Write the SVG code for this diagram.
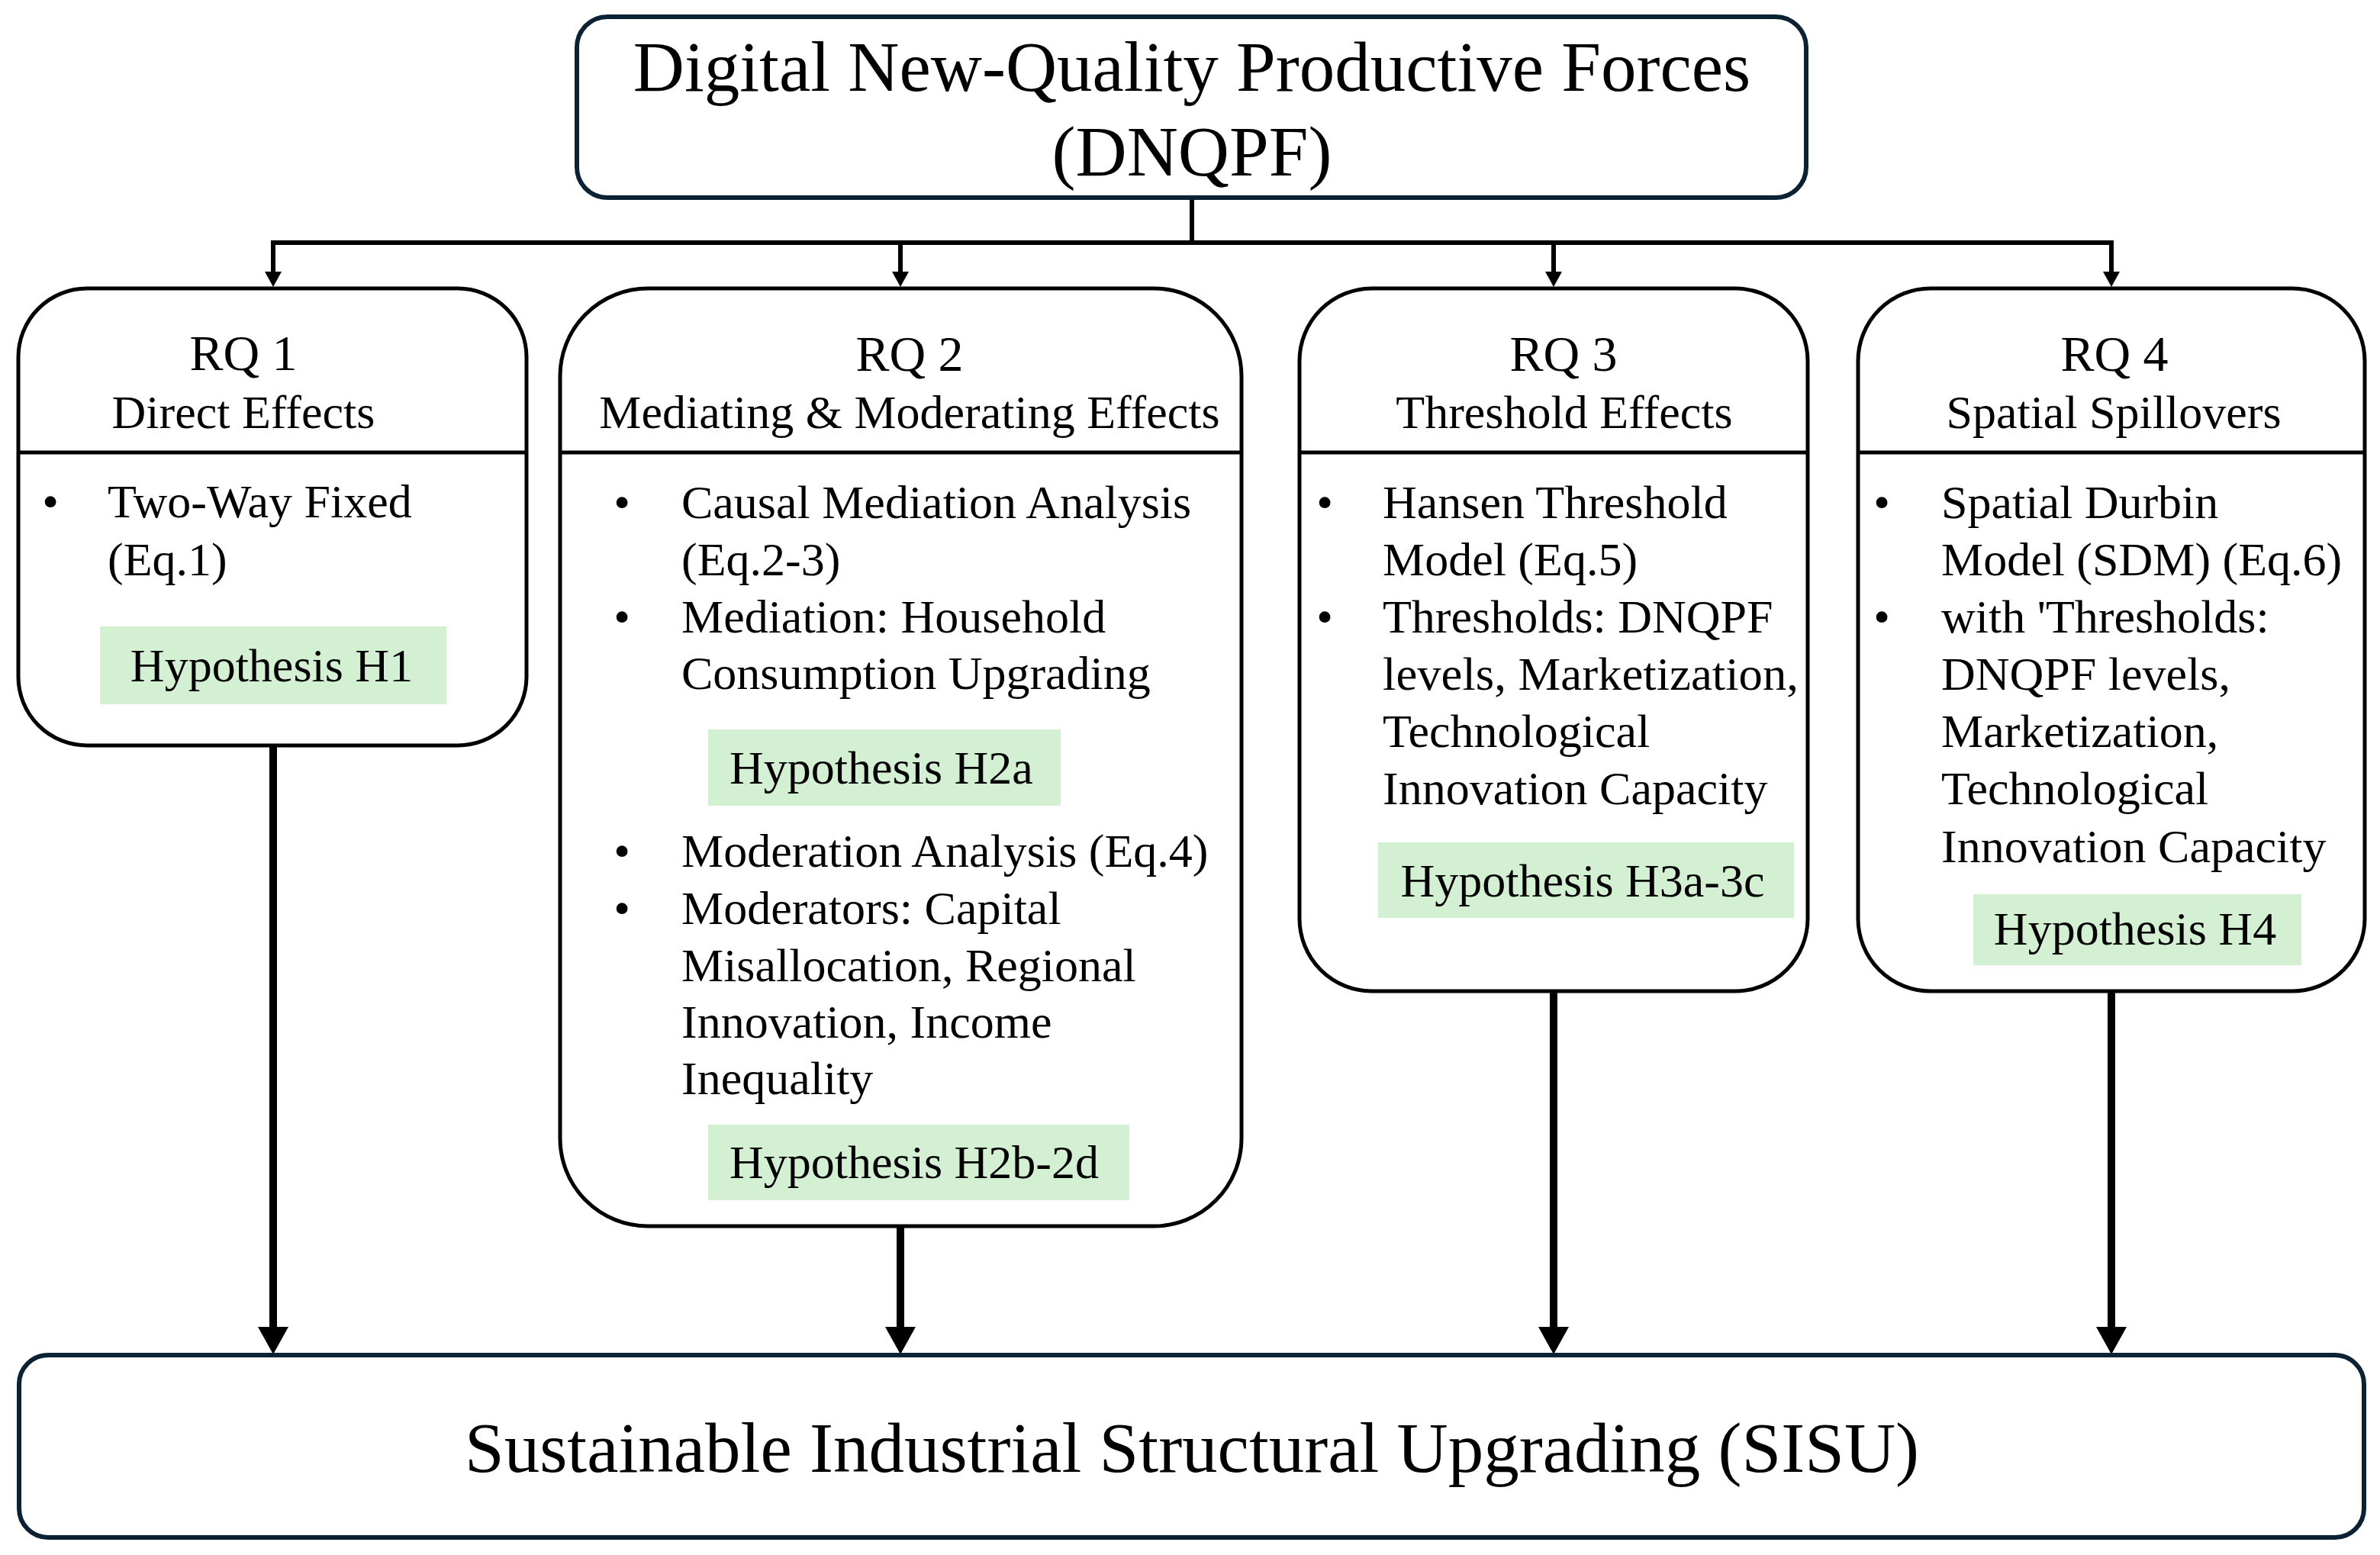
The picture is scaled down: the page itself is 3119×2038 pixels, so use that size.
<svg xmlns="http://www.w3.org/2000/svg" width="3119" height="2038" viewBox="0 0 3119 2038">
<defs>
<marker id="arrSmall" markerUnits="userSpaceOnUse" markerWidth="22" markerHeight="22" refX="0" refY="11" orient="auto" viewBox="0 0 20 22">
<path d="M0,0 L20,11 L0,22 z" fill="#000"/>
</marker>
<marker id="arrBig" markerUnits="userSpaceOnUse" markerWidth="36" markerHeight="40" refX="0" refY="20" orient="auto" viewBox="0 0 36 40">
<path d="M0,0 L36,20 L0,40 z" fill="#000"/>
</marker>
</defs>
<style>
text{font-family:"Liberation Serif","Times New Roman",serif;fill:#000}
.main{fill:#fff;stroke:#0a2233;stroke-width:6}
.rq{fill:#fff;stroke:#000;stroke-width:5}
.div{stroke:#000;stroke-width:5}
.hyp{fill:#d3f0d3}
.big{font-size:93px;text-anchor:middle}
.rqt{font-size:66px;text-anchor:middle}
.sub{font-size:62px;text-anchor:middle}
.body{font-size:62px}
.bul{font-size:62px;text-anchor:middle}
.ht{font-size:62px;text-anchor:middle}
.thin{fill:none;stroke:#000;stroke-width:6}
.thick{fill:none;stroke:#000;stroke-width:10}
</style>
<rect width="3119" height="2038" fill="#fff"/>

<g id="connectors">
<path class="thin" d="M1562,259 V318"/>
<path class="thin" d="M355,318 H2770"/>
<path class="thin" d="M358,315 V356" marker-end="url(#arrSmall)"/>
<path class="thin" d="M1180,315 V356" marker-end="url(#arrSmall)"/>
<path class="thin" d="M2036,315 V356" marker-end="url(#arrSmall)"/>
<path class="thin" d="M2767,315 V356" marker-end="url(#arrSmall)"/>
<path class="thick" d="M358,977 V1739" marker-end="url(#arrBig)"/>
<path class="thick" d="M1180,1607 V1739" marker-end="url(#arrBig)"/>
<path class="thick" d="M2036,1299 V1739" marker-end="url(#arrBig)"/>
<path class="thick" d="M2767,1299 V1739" marker-end="url(#arrBig)"/>
</g>

<g id="dnqpf">
<rect class="main" x="756" y="22" width="1611" height="237" rx="40"/>
<text class="big" x="1562" y="119">Digital New-Quality Productive Forces</text>
<text class="big" x="1562" y="230">(DNQPF)</text>
</g>

<g id="rq1">
<rect class="rq" x="24" y="378" width="666" height="599" rx="90"/>
<line class="div" x1="24" y1="593" x2="690" y2="593"/>
<text class="rqt" x="319" y="485">RQ 1</text>
<text class="sub" x="319" y="561">Direct Effects</text>
<text class="bul" x="66" y="678">•</text>
<text class="body" x="141" y="678">Two-Way Fixed</text>
<text class="body" x="141" y="754">(Eq.1)</text>
<rect class="hyp" x="131" y="821" width="454" height="102"/>
<text class="ht" x="356" y="893">Hypothesis H1</text>
</g>

<g id="rq2">
<rect class="rq" x="734" y="378" width="893" height="1229" rx="115"/>
<line class="div" x1="734" y1="593" x2="1627" y2="593"/>
<text class="rqt" x="1192" y="486">RQ 2</text>
<text class="sub" x="1192" y="561">Mediating &amp; Moderating Effects</text>
<text class="bul" x="815" y="679">•</text>
<text class="body" x="893" y="679">Causal Mediation Analysis</text>
<text class="body" x="893" y="754">(Eq.2-3)</text>
<text class="bul" x="815" y="829">•</text>
<text class="body" x="893" y="829">Mediation: Household</text>
<text class="body" x="893" y="903">Consumption Upgrading</text>
<rect class="hyp" x="928" y="956" width="462" height="100"/>
<text class="ht" x="1155" y="1027">Hypothesis H2a</text>
<text class="bul" x="815" y="1136">•</text>
<text class="body" x="893" y="1136">Moderation Analysis (Eq.4)</text>
<text class="bul" x="815" y="1211">•</text>
<text class="body" x="893" y="1211">Moderators: Capital</text>
<text class="body" x="893" y="1286">Misallocation, Regional</text>
<text class="body" x="893" y="1360">Innovation, Income</text>
<text class="body" x="893" y="1434">Inequality</text>
<rect class="hyp" x="928" y="1474" width="552" height="99"/>
<text class="ht" x="1198" y="1544">Hypothesis H2b-2d</text>
</g>

<g id="rq3">
<rect class="rq" x="1703" y="378" width="666" height="921" rx="95"/>
<line class="div" x1="1703" y1="593" x2="2369" y2="593"/>
<text class="rqt" x="2049" y="486">RQ 3</text>
<text class="sub" x="2050" y="561">Threshold Effects</text>
<text class="bul" x="1736" y="679">•</text>
<text class="body" x="1812" y="679">Hansen Threshold</text>
<text class="body" x="1812" y="754">Model (Eq.5)</text>
<text class="bul" x="1736" y="829">•</text>
<text class="body" x="1812" y="829">Thresholds: DNQPF</text>
<text class="body" x="1812" y="904" textLength="545" lengthAdjust="spacingAndGlyphs">levels, Marketization,</text>
<text class="body" x="1812" y="979">Technological</text>
<text class="body" x="1812" y="1054">Innovation Capacity</text>
<rect class="hyp" x="1806" y="1104" width="545" height="99"/>
<text class="ht" x="2074" y="1175">Hypothesis H3a-3c</text>
</g>

<g id="rq4">
<rect class="rq" x="2435" y="378" width="664" height="921" rx="95"/>
<line class="div" x1="2435" y1="593" x2="3099" y2="593"/>
<text class="rqt" x="2771" y="486">RQ 4</text>
<text class="sub" x="2770" y="561">Spatial Spillovers</text>
<text class="bul" x="2466" y="679">•</text>
<text class="body" x="2544" y="679">Spatial Durbin</text>
<text class="body" x="2544" y="754">Model (SDM) (Eq.6)</text>
<text class="bul" x="2466" y="829">•</text>
<text class="body" x="2544" y="829">with 'Thresholds:</text>
<text class="body" x="2544" y="904">DNQPF levels,</text>
<text class="body" x="2544" y="979">Marketization,</text>
<text class="body" x="2544" y="1054">Technological</text>
<text class="body" x="2544" y="1130">Innovation Capacity</text>
<rect class="hyp" x="2586" y="1172" width="430" height="93"/>
<text class="ht" x="2798" y="1238">Hypothesis H4</text>
</g>

<g id="sisu">
<rect class="main" x="25" y="1776" width="3073" height="239" rx="38"/>
<text class="big" x="1562" y="1929">Sustainable Industrial Structural Upgrading (SISU)</text>
</g>
</svg>
